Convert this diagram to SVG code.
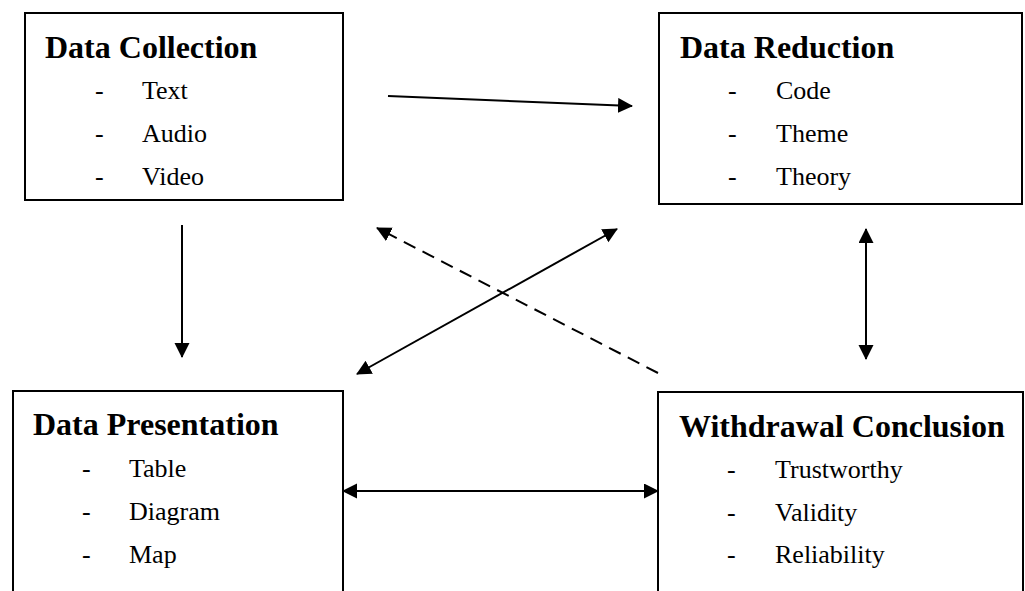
<svg xmlns="http://www.w3.org/2000/svg" width="1025" height="591" viewBox="0 0 1025 591">
<style>
.box{fill:#fff;stroke:#000;stroke-width:2}
.title{font-family:"Liberation Serif","Times New Roman",serif;font-weight:bold;font-size:32px;fill:#000}
.item{font-family:"Liberation Serif","Times New Roman",serif;font-size:26px;fill:#000}
.conn{stroke:#000;stroke-width:2;fill:none}
.dash{stroke-dasharray:13 8}
</style>
<defs>
<marker id="ah" markerUnits="userSpaceOnUse" markerWidth="16" markerHeight="16" refX="14" refY="7.5" orient="auto-start-reverse" viewBox="0 0 16 16">
<path d="M0,0 L15,7.5 L0,15 z" fill="#000" stroke="none"/>
</marker>
</defs>
<rect width="1025" height="591" fill="#fff"/>
<g id="data-collection">
<rect class="box" x="25" y="13" width="318" height="187"/>
<text class="title" x="45" y="58">Data Collection</text>
<text class="item" x="95" y="99">-</text><text class="item" x="142" y="99">Text</text>
<text class="item" x="95" y="142">-</text><text class="item" x="142" y="142">Audio</text>
<text class="item" x="95" y="185">-</text><text class="item" x="142" y="185">Video</text>
</g>
<g id="data-reduction">
<rect class="box" x="659" y="13" width="363" height="191"/>
<text class="title" x="680" y="58">Data Reduction</text>
<text class="item" x="728" y="99">-</text><text class="item" x="776" y="99">Code</text>
<text class="item" x="728" y="142">-</text><text class="item" x="776" y="142">Theme</text>
<text class="item" x="728" y="185">-</text><text class="item" x="776" y="185">Theory</text>
</g>
<g id="data-presentation">
<rect class="box" x="13" y="391" width="330" height="215"/>
<text class="title" x="33" y="435">Data Presentation</text>
<text class="item" x="82" y="477">-</text><text class="item" x="129" y="477">Table</text>
<text class="item" x="82" y="520">-</text><text class="item" x="129" y="520">Diagram</text>
<text class="item" x="82" y="563">-</text><text class="item" x="129" y="563">Map</text>
</g>
<g id="withdrawal-conclusion">
<rect class="box" x="658" y="392" width="365" height="215"/>
<text class="title" x="679" y="437">Withdrawal Conclusion</text>
<text class="item" x="727" y="478">-</text><text class="item" x="775" y="478">Trustworthy</text>
<text class="item" x="727" y="521">-</text><text class="item" x="775" y="521">Validity</text>
<text class="item" x="727" y="563">-</text><text class="item" x="775" y="563">Reliability</text>
</g>
<g id="connectors">
<line class="conn" x1="388" y1="96" x2="632" y2="106" marker-end="url(#ah)"/>
<line class="conn" x1="182" y1="225" x2="182" y2="357" marker-end="url(#ah)"/>
<line class="conn" x1="866" y1="229" x2="866" y2="359" marker-start="url(#ah)" marker-end="url(#ah)"/>
<line class="conn dash" x1="658" y1="373" x2="377" y2="228" marker-end="url(#ah)"/>
<line class="conn" x1="357" y1="374" x2="617" y2="229" marker-start="url(#ah)" marker-end="url(#ah)"/>
<line class="conn" x1="343" y1="491" x2="658" y2="491" marker-start="url(#ah)" marker-end="url(#ah)"/>
</g>
</svg>
